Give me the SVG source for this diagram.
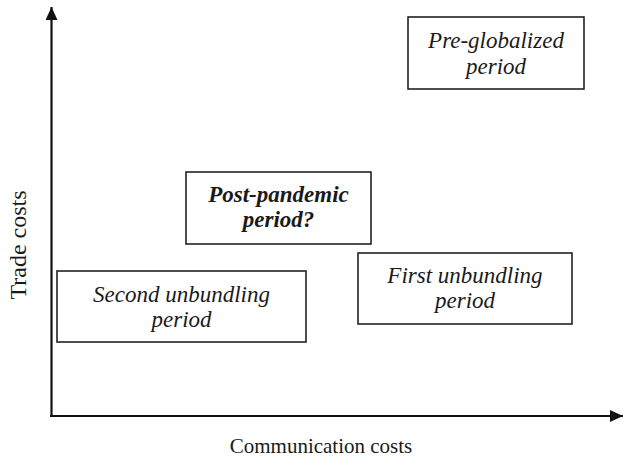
<svg xmlns="http://www.w3.org/2000/svg" width="624" height="460" viewBox="0 0 624 460">
<style>
.box{fill:#fff;stroke:#222;stroke-width:1.6}
.t{font-family:"Liberation Serif","Times New Roman",serif;font-size:23px;font-style:italic;fill:#1a1a1a;text-anchor:middle}
.b{font-weight:bold}
.ax{font-family:"Liberation Serif","Times New Roman",serif;font-size:21px;fill:#1a1a1a;text-anchor:middle}
.axis{stroke:#111;stroke-width:2.2;fill:none}
</style>
<defs>
<marker id="ah" markerWidth="14" markerHeight="12" refX="13" refY="6" orient="auto" markerUnits="userSpaceOnUse">
<path d="M0,0 L13,6 L0,12 Z" fill="#111"/>
</marker>
</defs>
<g id="connectors">
<path class="axis" d="M51.5,417 L51.5,7" marker-end="url(#ah)"/>
<path class="axis" d="M50,416 L623,416" marker-end="url(#ah)"/>
</g>
<g id="pre-globalized">
<rect class="box" x="408" y="17" width="176" height="72"/>
<text class="t" x="496" y="48">Pre-globalized</text>
<text class="t" x="496" y="74">period</text>
</g>
<g id="post-pandemic">
<rect class="box" x="186" y="172" width="185" height="72"/>
<text class="t b" x="278.5" y="202">Post-pandemic</text>
<text class="t b" x="278.5" y="227">period?</text>
</g>
<g id="second-unbundling">
<rect class="box" x="57" y="271" width="249" height="71"/>
<text class="t" x="181.5" y="302">Second unbundling</text>
<text class="t" x="181.5" y="327">period</text>
</g>
<g id="first-unbundling">
<rect class="box" x="358" y="253" width="214" height="71"/>
<text class="t" x="465" y="283">First unbundling</text>
<text class="t" x="465" y="308">period</text>
</g>
<g id="axis-labels">
<text class="ax" x="321" y="453">Communication costs</text>
<text class="ax" style="font-size:24px" transform="translate(26,245) rotate(-90)">Trade costs</text>
</g>
</svg>
